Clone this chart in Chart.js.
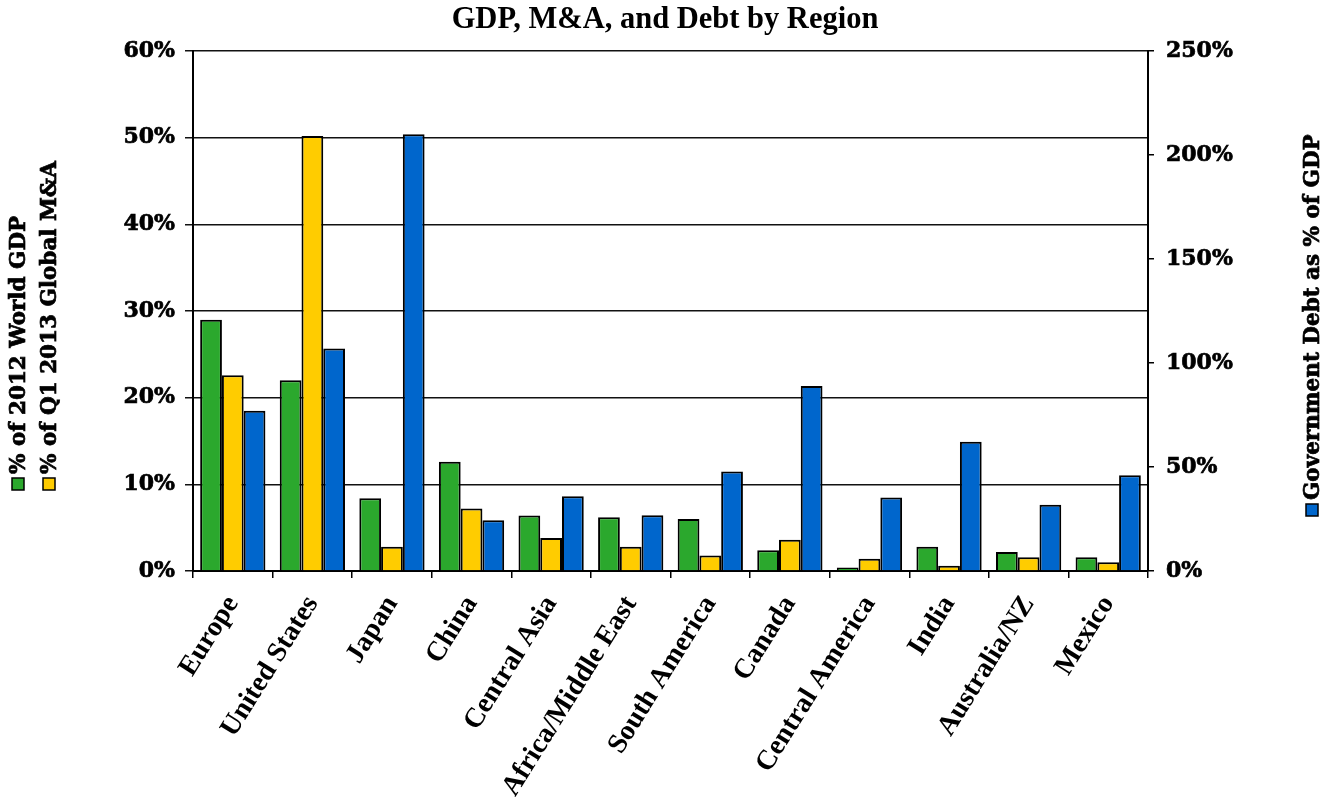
<!DOCTYPE html>
<html>
<head>
<meta charset="utf-8">
<script src="https://cdn.jsdelivr.net/npm/chart.js@4/dist/chart.umd.min.js"></script>
<style>
  html, body { margin: 0; padding: 0; background: #ffffff; }
  #wrap { width: 1330px; height: 803px; }
</style>
</head>
<body>
<div id="wrap"><canvas id="chart" width="1330" height="803"></canvas></div>
<script>
// Regions and their shares (percent)
const regions = ['Europe', 'United States', 'Japan', 'China', 'Central Asia', 'Africa/Middle East',
  'South America', 'Canada', 'Central America', 'India', 'Australia/NZ', 'Mexico'];
const worldGdpShare = [29.0, 22.0, 8.4, 12.6, 6.4, 6.2, 6.0, 2.4, 0.4, 2.8, 2.2, 1.6];
const globalMaShare = [22.6, 50.2, 2.8, 7.2, 3.8, 2.8, 1.8, 3.6, 1.4, 0.6, 1.6, 1.0];
const govDebtToGdp = [77, 107, 210, 24.4, 36, 26.8, 47.8, 88.9, 35.3, 62.2, 31.9, 46];

const seriesNames = ['% of 2012 World GDP', '% of Q1 2013 Global M&A', 'Government Debt as % of GDP'];
const seriesColors = ['#2BA82D', '#FFCC00', '#0066CC'];

const SERIF = '"DejaVu Serif", "Liberation Serif", serif';
const TIMES = '"Liberation Serif", "Times New Roman", serif';

// Legend entries drawn as rotated axis titles, with a colour key in front of each
const sideLegend = {
  id: 'sideLegend',
  afterDraw(chart) {
    const ctx = chart.ctx;
    const entries = [
      { ds: 0, x: 18, y: 490 },
      { ds: 1, x: 49, y: 490 },
      { ds: 2, x: 1312, y: 516 }
    ];
    ctx.save();
    ctx.font = 'bold 21.5px ' + SERIF;
    ctx.textBaseline = 'middle';
    ctx.textAlign = 'left';
    entries.forEach(e => {
      const ds = chart.data.datasets[e.ds];
      ctx.save();
      ctx.translate(e.x, e.y);
      ctx.rotate(-Math.PI / 2);
      ctx.fillStyle = ds.backgroundColor;
      ctx.fillRect(0, -6, 12, 12);
      ctx.strokeStyle = '#000';
      ctx.lineWidth = 1.5;
      ctx.strokeRect(0, -6, 12, 12);
      ctx.fillStyle = '#000';
      ctx.lineWidth = 0.7;
      ctx.fillText(ds.label, 16, 1);
      ctx.strokeText(ds.label, 16, 1);
      ctx.restore();
    });
    ctx.restore();
  }
};

const pct = v => v + '%';

new Chart(document.getElementById('chart'), {
  type: 'bar',
  data: {
    labels: regions,
    datasets: [
      { label: seriesNames[0], data: worldGdpShare, backgroundColor: seriesColors[0], yAxisID: 'y' },
      { label: seriesNames[1], data: globalMaShare, backgroundColor: seriesColors[1], yAxisID: 'y' },
      { label: seriesNames[2], data: govDebtToGdp, backgroundColor: seriesColors[2], yAxisID: 'y1' }
    ]
  },
  options: {
    responsive: false,
    animation: false,
    layout: { padding: { left: 0, right: 0, top: 0, bottom: 0 } },
    datasets: {
      bar: {
        borderColor: '#000',
        borderWidth: 2,
        categoryPercentage: 0.82,
        barPercentage: 1.0
      }
    },
    plugins: {
      legend: { display: false },
      tooltip: { enabled: false },
      title: {
        display: true,
        text: 'GDP, M&A, and Debt by Region',
        color: '#000',
        font: { family: TIMES, size: 30.5, weight: 'bold', lineHeight: 1.1 },
        padding: { top: 3, bottom: 14.5 }
      }
    },
    scales: {
      x: {
        grid: { display: true, drawOnChartArea: false, drawTicks: true, tickLength: 7, color: '#000', lineWidth: 1.5, offset: true },
        border: { display: true, color: '#000', width: 2 },
        ticks: {
          color: '#000',
          font: { family: TIMES, size: 28, weight: 'bold' },
          minRotation: 58, maxRotation: 58, autoSkip: false, padding: 12
        },
        afterFit(scale) { scale.height = 232; }
      },
      y: {
        position: 'left',
        min: 0, max: 60,
        ticks: { stepSize: 10, callback: pct, color: '#000', font: { family: SERIF, size: 22, weight: 'bold' },
          padding: 10, textStrokeColor: '#000', textStrokeWidth: 0.7 },
        grid: { color: '#111', lineWidth: 1.5, tickLength: 8, drawTicks: true },
        border: { display: true, color: '#000', width: 2 },
        afterFit(scale) { scale.width = 193; }
      },
      y1: {
        position: 'right',
        min: 0, max: 250,
        ticks: { stepSize: 50, callback: pct, color: '#000', font: { family: SERIF, size: 22, weight: 'bold' },
          padding: 12, textStrokeColor: '#000', textStrokeWidth: 0.7 },
        grid: { drawOnChartArea: false, color: '#000', lineWidth: 1.5, tickLength: 6 },
        border: { display: true, color: '#000', width: 2 },
        afterFit(scale) { scale.width = 182; }
      }
    }
  },
  plugins: [sideLegend]
});
</script>
</body>
</html>
